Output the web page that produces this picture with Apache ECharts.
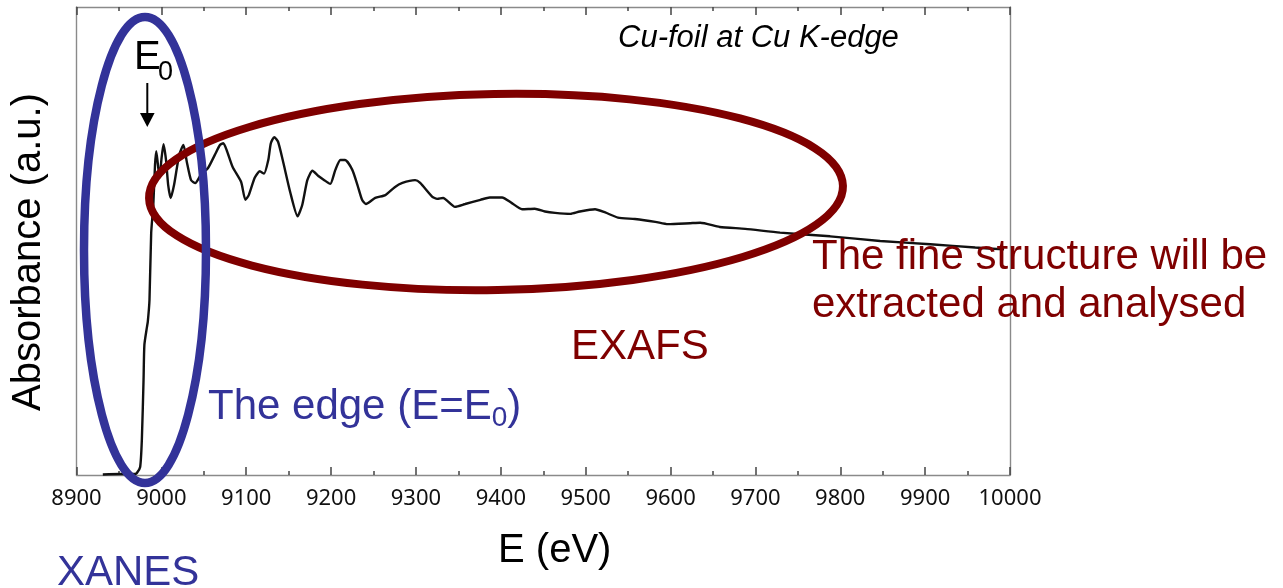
<!DOCTYPE html>
<html>
<head>
<meta charset="utf-8">
<title>Cu-foil at Cu K-edge</title>
<script src="https://cdn.jsdelivr.net/npm/echarts@6/dist/echarts.min.js"></script>
<style>
  html, body { margin: 0; padding: 0; background: #fff; }
  #chart { width: 1283px; height: 588px; }
</style>
</head>
<body>
<div id="chart"></div>
<script>
// Photon energy (eV) of the Cu K-edge scan
const energy = [8931, 8951, 8968, 8971, 8975, 8977, 8979, 8980, 8983, 8984, 8986, 8988, 8990.5, 8992.5,
  8994, 8996, 8998, 9000, 9002.5, 9005.5, 9008, 9011, 9015, 9021, 9026, 9030, 9035, 9040, 9047, 9055,
  9063, 9069, 9073, 9077, 9084, 9094, 9099, 9103, 9110, 9116, 9121, 9126, 9129, 9133, 9137.5, 9143,
  9152, 9160.5, 9166, 9172, 9178, 9185, 9192, 9199, 9205, 9211, 9216.5, 9225, 9231, 9236.5, 9241,
  9252, 9264, 9275, 9284, 9299, 9305, 9319, 9325, 9332, 9346, 9358, 9376, 9387, 9401.5, 9413, 9425,
  9440, 9452, 9464, 9482, 9493, 9511, 9523, 9538, 9558, 9582, 9597, 9623, 9635, 9658, 9688, 9729,
  9788, 9847, 9906, 9959, 9993];

// Absorbance (arbitrary units) at each energy
const absorbance = [0.001, 0.002, 0.002, 0.004, 0.017, 0.075, 0.203, 0.278, 0.316, 0.327, 0.374, 0.517, 0.577, 0.662,
  0.692, 0.662, 0.635, 0.673, 0.707, 0.673, 0.620, 0.592, 0.620, 0.684, 0.705, 0.669, 0.630, 0.624, 0.643, 0.656,
  0.684, 0.705, 0.709, 0.694, 0.658, 0.626, 0.588, 0.598, 0.635, 0.649, 0.644, 0.673, 0.709, 0.722, 0.712, 0.673,
  0.603, 0.553, 0.577, 0.630, 0.650, 0.639, 0.630, 0.622, 0.652, 0.673, 0.673, 0.652, 0.620, 0.588, 0.579,
  0.592, 0.598, 0.615, 0.624, 0.630, 0.624, 0.595, 0.590, 0.592, 0.573, 0.579, 0.588, 0.593, 0.593, 0.581, 0.568,
  0.569, 0.563, 0.560, 0.558, 0.563, 0.568, 0.561, 0.550, 0.547, 0.541, 0.536, 0.538, 0.539, 0.530, 0.526, 0.518,
  0.510, 0.500, 0.493, 0.486, 0.482];

// Energy axis range and tick step
const xMin = 8900, xMax = 10000, xStep = 100;

const SANS = '"Liberation Sans", Arial, sans-serif';
const BLUE = '#333399';
const DARKRED = '#7f0000';
const AXIS_GREY = '#8a8a8a';

const chart = echarts.init(document.getElementById('chart'), null, { renderer: 'canvas' });

// measure text widths so subscripts follow their base text
const measureCtx = document.createElement('canvas').getContext('2d');
function textWidth(str, size, style) {
  measureCtx.font = (style || '') + ' ' + size + 'px ' + SANS;
  return measureCtx.measureText(str).width;
}

const series = energy.map((e, i) => [e, absorbance[i]]);

const edgeBase = 'The edge (E=E';
const edgeX = 208;
const edgeW = textWidth(edgeBase, 42);
const subW = textWidth('0', 28);

function energyAxis(extra) {
  return Object.assign({
    type: 'value',
    min: xMin,
    max: xMax,
    interval: xStep,
    axisLine: { show: true, onZero: false, lineStyle: { color: AXIS_GREY, width: 1.4 } },
    axisTick: { show: true, inside: true, length: 8, lineStyle: { color: '#444', width: 1.5 } },
    minorTick: { show: true, splitNumber: 2, length: 4, lineStyle: { color: '#444', width: 1.5 } },
    splitLine: { show: false },
    minorSplitLine: { show: false }
  }, extra);
}

chart.setOption({
  animation: false,
  backgroundColor: '#ffffff',
  grid: { left: 76.5, right: 273, top: 7, bottom: 113, containLabel: false },
  xAxis: [
    energyAxis({
      position: 'bottom',
      name: 'E (eV)',
      nameLocation: 'middle',
      nameGap: 56,
      nameTextStyle: { fontFamily: SANS, fontSize: 40, color: '#000', padding: [0, 0, 0, 23] },
      axisLabel: {
        show: true, margin: 13, fontFamily: '"Noto Sans", "Open Sans", sans-serif', fontSize: 22, color: '#111',
        formatter: v => String(v)
      }
    }),
    energyAxis({
      position: 'top',
      axisLabel: { show: false }
    })
  ],
  yAxis: [
    {
      type: 'value', min: 0, max: 1, position: 'left',
      name: 'Absorbance (a.u.)',
      nameLocation: 'middle',
      nameGap: 28,
      nameRotate: 90,
      nameTextStyle: { fontFamily: SANS, fontSize: 40, color: '#000', padding: [0, 22, 0, 0] },
      axisLine: { show: true, lineStyle: { color: AXIS_GREY, width: 1.4 } },
      axisTick: { show: false }, axisLabel: { show: false }, splitLine: { show: false }
    },
    {
      type: 'value', min: 0, max: 1, position: 'right',
      axisLine: { show: true, lineStyle: { color: AXIS_GREY, width: 1.4 } },
      axisTick: { show: false }, axisLabel: { show: false }, splitLine: { show: false }
    }
  ],
  series: [{
    type: 'line',
    name: 'Cu foil',
    xAxisIndex: 0,
    yAxisIndex: 0,
    data: series,
    showSymbol: false,
    smooth: 0.2,
    lineStyle: { color: '#111', width: 2.4 },
    z: 2
  }],
  graphic: [
    // plot caption
    { type: 'text', x: 618, y: 38, z: 10,
      style: { text: 'Cu-foil at Cu K-edge', font: 'italic 31px ' + SANS, fill: '#000', verticalAlign: 'middle' } },
    // E0 marker with arrow
    { type: 'text', x: 134, y: 58, z: 10,
      style: { text: 'E', font: '40px ' + SANS, fill: '#000', verticalAlign: 'middle' } },
    { type: 'text', x: 158, y: 73, z: 10,
      style: { text: '0', font: '27px ' + SANS, fill: '#000', verticalAlign: 'middle' } },
    { type: 'line', z: 10, shape: { x1: 147.3, y1: 83, x2: 147.3, y2: 114 },
      style: { stroke: '#000', lineWidth: 2 } },
    { type: 'polygon', z: 10, shape: { points: [[140, 113], [154.6, 113], [147.3, 127]] },
      style: { fill: '#000' } },
    // EXAFS region outline
    { type: 'ellipse', z: 20, x: 496, y: 192, rotation: 1.0 * Math.PI / 180,
      shape: { cx: 0, cy: 0, rx: 347, ry: 98 },
      style: { fill: 'none', stroke: DARKRED, lineWidth: 8 } },
    // XANES region outline
    { type: 'ellipse', z: 21,
      shape: { cx: 145, cy: 250, rx: 61, ry: 233 },
      style: { fill: 'none', stroke: BLUE, lineWidth: 8.5 } },
    // annotations
    { type: 'text', x: edgeX, y: 407, z: 10,
      style: { text: edgeBase, font: '42px ' + SANS, fill: BLUE, verticalAlign: 'middle' } },
    { type: 'text', x: edgeX + edgeW, y: 418, z: 10,
      style: { text: '0', font: '28px ' + SANS, fill: BLUE, verticalAlign: 'middle' } },
    { type: 'text', x: edgeX + edgeW + subW, y: 407, z: 10,
      style: { text: ')', font: '42px ' + SANS, fill: BLUE, verticalAlign: 'middle' } },
    { type: 'text', x: 571, y: 347, z: 10,
      style: { text: 'EXAFS', font: '42px ' + SANS, fill: DARKRED, verticalAlign: 'middle' } },
    { type: 'text', x: 812, y: 257, z: 10,
      style: { text: 'The fine structure will be', font: '42px ' + SANS, fill: DARKRED, verticalAlign: 'middle' } },
    { type: 'text', x: 812, y: 305, z: 10,
      style: { text: 'extracted and analysed', font: '42px ' + SANS, fill: DARKRED, verticalAlign: 'middle' } },
    { type: 'text', x: 57, y: 573, z: 10,
      style: { text: 'XANES', font: '42px ' + SANS, fill: BLUE, verticalAlign: 'middle' } }
  ]
});
</script>
</body>
</html>
